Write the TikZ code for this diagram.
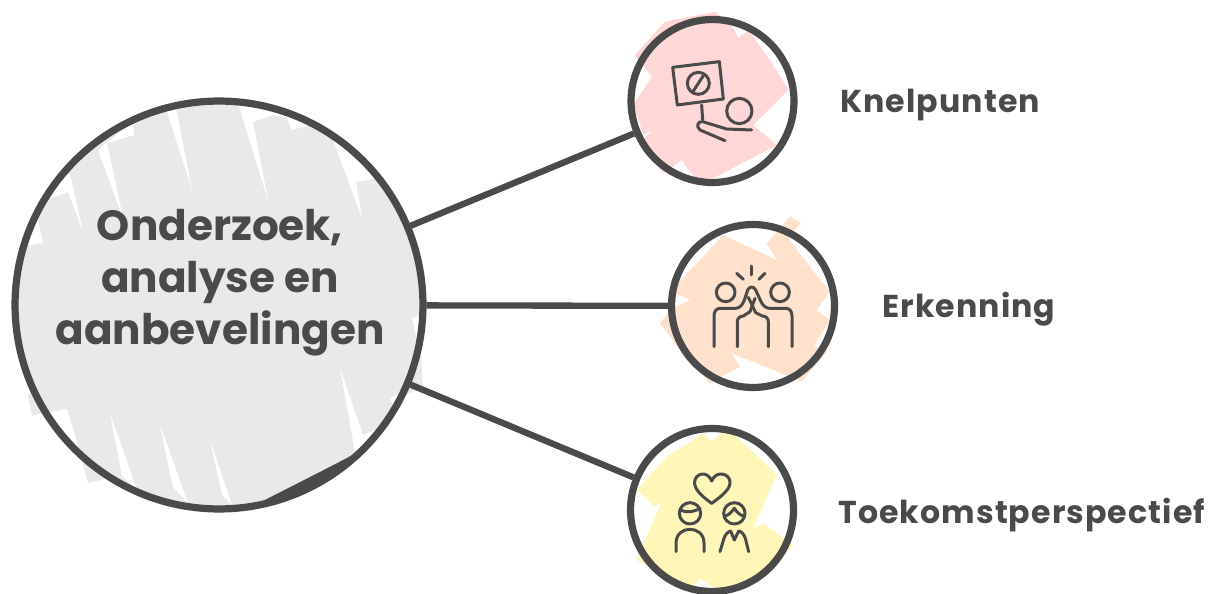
\documentclass[tikz,border=0pt]{standalone}
\usepackage{fontspec}
\setmainfont{Poppins}
\definecolor{inkgray}{HTML}{4A4A4A}
\definecolor{hubfill}{HTML}{E9E9E9}
\definecolor{pinkfill}{HTML}{FFD7D7}
\definecolor{peachfill}{HTML}{FFE1CC}
\definecolor{yellowfill}{HTML}{FFF6B8}
\begin{document}
\begin{tikzpicture}[
        x=0.02cm, y=-0.02cm,
        hubnode/.style={circle, draw=inkgray, line width=4.1pt, inner sep=0pt, minimum size=8.16cm},
        spokenode/.style={circle, draw=inkgray, line width=4.1pt, inner sep=0pt, minimum size=3.26cm},
        connector/.style={draw=inkgray, line width=3.6pt},
        icon/.style={draw=inkgray, line width=1.7pt, line cap=round, line join=round},
        hubtext/.style={text=inkgray, font=\fontsize{24}{29.5}\selectfont\bfseries, align=center},
        labeltext/.style={text=inkgray, font=\fontsize{18}{21}\selectfont\bfseries\addfontfeature{LetterSpace=3.4}, anchor=west, inner sep=0pt},
    ]
        \useasboundingbox (0,0) rectangle (1209,594);

        %Fills
        \fill[hubfill] (219,305) circle (203);
        \fill[hubfill] (28,395) -- (32,416) -- (48,412) -- (38,388) -- cycle;
        \fill[hubfill] (70,420) -- (88,483) -- (122,475) -- (110,430) -- cycle;
        \fill[hubfill] (137,488) -- (173,487) -- (180,500) -- (150,497) -- cycle;
        \fill[hubfill] (395,400) -- (423,387) -- (420,340) -- (405,360) -- cycle;

        \fill[white] (166,108) -- (176,108) -- (192,190) -- cycle;
        \fill[white] (98,150) -- (133,122) -- (134,135) -- (107,143) -- (123,218) -- cycle;
        \fill[white] (70,174) -- (83,232) -- (68,192) -- (45,200) -- (50,180) -- cycle;
        \fill[white] (38,220) -- (43,243) -- (26,246) -- (30,215) -- cycle;
        \fill[white] (237,100) -- (268,200) -- (253,122) -- (273,115) -- (287,118) -- (292,130)
            -- (317,123) -- (330,125) -- (300,100) -- cycle;
        \fill[white] (333,140) -- (362,218) -- (356,182) -- (383,177) -- (400,180) -- (370,150) -- cycle;
        \fill[white] (412,318) -- (422,315) -- (418,345) -- cycle;
        \fill[white] (390,398) -- (404,392) -- (398,408) -- (393,406) -- cycle;
        \fill[white] (340,368) -- (363,435) -- (378,429) -- (370,452) -- (355,452) -- cycle;
        \fill[white] (32,416) -- (67,409) -- (80,452) -- (48,425) -- cycle;
        \fill[white] (110,413) -- (122,476) -- (137,490) -- cycle;
        \fill[white] (160,425) -- (173,487) -- (188,503) -- cycle;
        \fill[white] (210,440) -- (222,495) -- (232,505) -- cycle;

        \begin{scope}[shift={(620,5)}, scale=1/3]
            \fill[pinkfill] (135,50) -- (285,20) -- (340,70) -- (355,100) -- (385,75) -- (450,165)
                -- (505,255) -- (400,360) -- (470,420) -- (280,520) -- (225,520) -- (185,465)
                -- (130,505) -- (60,410) -- (100,375) -- (70,390) -- (40,300) -- (95,215)
                -- (45,150) -- cycle;
        \end{scope}
        \begin{scope}[shift={(655,210)}, scale=1/3]
            \fill[peachfill] (405,20) -- (438,38) -- (400,85) -- (480,190) -- (525,245) -- (485,300)
                -- (525,330) -- (475,410) -- (520,420) -- (440,515) -- (255,440) -- (230,430)
                -- (255,470) -- (165,520) -- (60,400) -- (15,340) -- (45,300) -- (105,270)
                -- (62,250) -- (60,230) -- (205,75) -- (365,150) -- (335,100) -- cycle;
        \end{scope}
        \begin{scope}[shift={(620,420)}, scale=1/3]
            \fill[yellowfill] (250,40) -- (275,65) -- (320,20) -- (470,165) -- (400,325) -- (430,310)
                -- (520,375) -- (445,455) -- (380,505) -- (290,510) -- (240,475) -- (215,510) -- (50,420)
                -- (125,245) -- (105,260) -- (50,210) -- (140,110) -- cycle;
        \end{scope}

        %Nodes
        \node[hubnode] (hub) at (219,305) {};
        \node[spokenode] (knel) at (712.5,101) {};
        \node[spokenode] (erk) at (753,306) {};
        \node[spokenode] (toek) at (712,510) {};

        \node[hubtext] (hubLabel) at (220,283) {Onderzoek,\\analyse en\\aanbevelingen};
        \node[labeltext] (knelLabel) at (840,105) {Knelpunten};
        \node[labeltext] (erkLabel) at (882,309) {Erkenning};
        \node[labeltext] (toekLabel) at (838,515) {Toekomstperspectief};

        %Lines
        \draw[connector] (hub) -- (knel);
        \draw[connector] (hub) -- (erk);
        \draw[connector] (hub) -- (toek);
        \fill[inkgray] (358,452) .. controls (340,462) and (300,482) .. (255,505)
            .. controls (295,497) and (335,480) .. (358,455) -- cycle;

        %Icons
        \begin{scope}[shift={(620,5)}, scale=1/3]
            \draw[icon] (158,187) -- (298,170) -- (310,282) -- (172,300) -- cycle;
            \draw[icon] (235,235) circle (33);
            \draw[icon] (220,258) -- (250,212);
            \draw[icon] (245,300) -- (248,345);
            \draw[icon] (358,318) circle (38);
            \draw[icon] (395,375) -- (320,372) -- (248,350) .. controls (232,348) and (228,365) .. (240,375) -- (315,407);
        \end{scope}
        \begin{scope}[shift={(655,210)}, scale=1/3]
            \draw[icon] (288,168) -- (288,195);
            \draw[icon] (245,190) -- (265,208);
            \draw[icon] (330,190) -- (312,208);
            \draw[icon] (212,247) circle (28);
            \draw[icon] (375,247) circle (28);
            \draw[icon] (177,410) -- (177,318) .. controls (177,303) and (185,295) .. (195,295) -- (240,295)
                .. controls (255,295) and (262,285) .. (268,270) -- (278,240) .. controls (285,228) and (295,228) .. (302,240)
                -- (318,275) .. controls (325,290) and (335,295) .. (345,295) -- (393,295)
                .. controls (403,295) and (411,303) .. (411,318) -- (411,410);
            \draw[icon] (247,410) -- (247,335) .. controls (247,325) and (255,318) .. (265,318) -- (285,305) -- (300,265);
            \draw[icon] (340,410) -- (340,335) .. controls (340,325) and (332,318) .. (322,318) -- (302,308) -- (280,262);
        \end{scope}
        \begin{scope}[shift={(620,420)}, scale=1/3]
            \draw[icon] (275,250) .. controls (240,225) and (222,205) .. (224,185)
                .. controls (226,160) and (262,150) .. (275,183)
                .. controls (288,150) and (328,160) .. (330,185)
                .. controls (332,205) and (310,225) .. (275,250) -- cycle;
            \draw[icon] (210,280) circle (32);
            \draw[icon] (180,270) .. controls (200,280) and (225,275) .. (240,265);
            \draw[icon] (343,280) circle (32);
            \draw[icon] (315,288) .. controls (328,285) and (335,275) .. (343,265) .. controls (350,275) and (358,285) .. (371,288);
            \draw[icon] (168,395) -- (168,370) .. controls (168,340) and (190,328) .. (210,328)
                .. controls (230,328) and (252,340) .. (252,370) -- (252,395);
            \draw[icon] (300,395) -- (312,355) .. controls (316,342) and (325,335) .. (332,333)
                -- (343,360) -- (356,333) .. controls (364,335) and (372,342) .. (376,355) -- (386,395);
        \end{scope}
    \end{tikzpicture}
\end{document}
